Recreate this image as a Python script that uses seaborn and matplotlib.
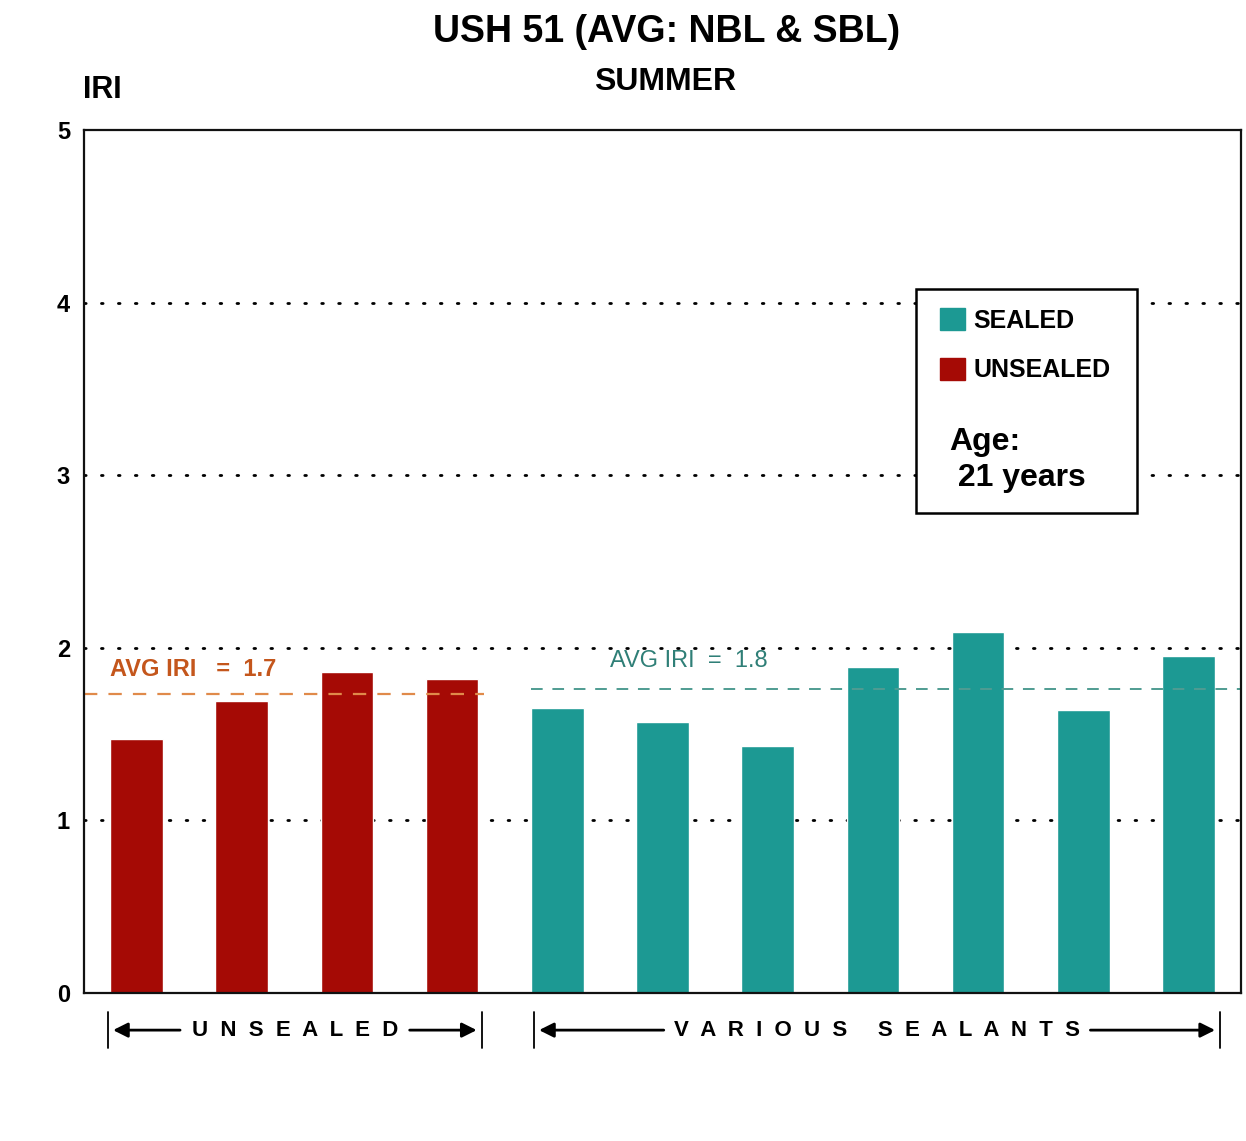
import pandas as pd
import numpy as np
import seaborn as sns
import matplotlib.pyplot as plt
from matplotlib.patches import Rectangle, Patch
from matplotlib.transforms import blended_transform_factory

# values
unsealed_iri = [1.47, 1.69, 1.86, 1.82]
sealed_iri = [1.65, 1.57, 1.43, 1.89, 2.09, 1.64, 1.95]
avg_unsealed = 1.73
avg_sealed = 1.76
avg_labels = ["AVG IRI  =  1.7", "AVG IRI  =  1.8"]
y_ticks = [0, 1, 2, 3, 4, 5]

red = "#a50a05"
teal = "#1c9993"

sns.set_theme(style="white")
plt.rcParams['font.family'] = ['Liberation Sans', 'DejaVu Sans']
plt.rcParams['text.color'] = 'black'
plt.rcParams['ytick.color'] = 'black'

df = pd.DataFrame({
    "site": [f"U{i+1}" for i in range(len(unsealed_iri))] + [f"S{i+1}" for i in range(len(sealed_iri))],
    "iri": unsealed_iri + sealed_iri,
    "group": ["UNSEALED"] * len(unsealed_iri) + ["SEALED"] * len(sealed_iri),
})

fig = plt.figure(figsize=(12.46, 11.41), dpi=100)
ax = fig.add_axes([0.0674, 0.1297, 0.9286, 0.7563])

sns.barplot(data=df, x="site", y="iri", hue="group", dodge=False, width=0.5,
            palette={"UNSEALED": red, "SEALED": teal}, saturation=1, legend=False, ax=ax)

n_u = len(unsealed_iri)
n = len(df)
ax.set_xlim(-0.5, n - 0.5)
ax.set_ylim(0, 5)
ax.set_yticks(y_ticks)
ax.set_yticklabels([str(t) for t in y_ticks], fontsize=17, fontweight="bold")
ax.set_xticks([])
ax.set_xlabel("")
ax.set_ylabel("")
ax.tick_params(axis="y", length=0, pad=10)
for t in y_ticks[1:-1]:
    ax.axhline(t, color="black", lw=2, ls=(0, (0.6, 5.5)), dash_capstyle="round", zorder=0)
for s in ax.spines.values():
    s.set_color("#111111")
    s.set_linewidth(1.6)

# average lines
ax.plot([-0.5, n_u - 0.7], [avg_unsealed] * 2, color="#e08a4a", lw=1.6, ls=(0, (6, 5)), zorder=1)
ax.plot([n_u - 0.25, n - 0.5], [avg_sealed] * 2, color="#4f9c92", lw=1.4, ls=(0, (6, 5)), zorder=1)
ax.text(-0.25, avg_unsealed + 0.08, "AVG IRI   =  1.7", color="#c4561c", fontsize=17, fontweight="bold", va="bottom")
ax.text(n_u + 0.5, avg_sealed + 0.1, avg_labels[1], color="#2f7f77", fontsize=17, va="bottom")

# legend box
ax.add_patch(Rectangle((0.719, 0.556), 0.191, 0.26, transform=ax.transAxes, fill=True,
                       facecolor="white", edgecolor="black", lw=1.8, zorder=5))
handles = [Patch(color=teal, label="SEALED"), Patch(color=red, label="UNSEALED")]
leg = ax.legend(handles=handles, loc="upper left", bbox_to_anchor=(0.72, 0.82), frameon=False,
                prop={"weight": "bold", "size": 18}, handlelength=1.0, handleheight=1.0,
                handletextpad=0.35, labelspacing=1.0)
leg.set_zorder(6)
ax.text(0.748, 0.618, "Age:\n 21 years", transform=ax.transAxes, fontsize=23, fontweight="bold",
        va="center", ha="left", linespacing=1.25, zorder=7)

# titles
fig.text(0.535, 0.972, "USH 51 (AVG: NBL & SBL)", ha="center", va="center", fontsize=27, fontweight="bold")
fig.text(0.534, 0.928, "SUMMER", ha="center", va="center", fontsize=23, fontweight="bold")
fig.text(0.067, 0.921, "IRI", ha="left", va="center", fontsize=22, fontweight="bold")

# group brackets under the axis
tr = blended_transform_factory(ax.transData, ax.transAxes)
yb = -0.043
groups = [(-0.27, n_u - 1 + 0.28, "U  N  S  E  A  L  E  D", 0.30),
          (n_u - 0.22, n - 1 + 0.3, "V  A  R  I  O  U  S     S  E  A  L  A  N  T  S", 0.307)]
for x0, x1, label, gap in groups:
    xm = (x0 + x1) / 2
    half = (x1 - x0) * gap
    for xv in (x0, x1):
        ax.plot([xv, xv], [yb - 0.021, yb + 0.021], color="black", lw=1.3, transform=tr, clip_on=False)
    ax.annotate("", xy=(x0 + 0.02, yb), xytext=(xm - half, yb), xycoords=tr, textcoords=tr,
                arrowprops=dict(arrowstyle="-|>", color="black", lw=2, mutation_scale=22))
    ax.annotate("", xy=(x1 - 0.02, yb), xytext=(xm + half, yb), xycoords=tr, textcoords=tr,
                arrowprops=dict(arrowstyle="-|>", color="black", lw=2, mutation_scale=22))
    ax.text(xm, yb, label, transform=tr, ha="center", va="center", fontsize=16, fontweight="bold")

plt.savefig("out.png", dpi=100)
